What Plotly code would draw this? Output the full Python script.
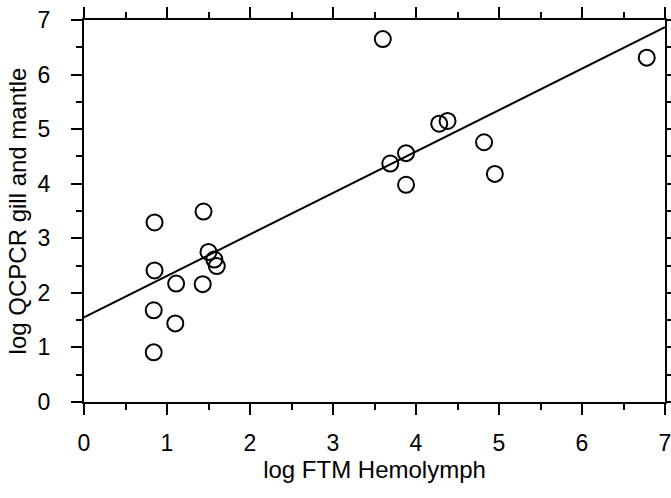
import plotly.graph_objects as go

# Data
ftm_hemolymph = [3.60, 6.78, 4.28, 4.38, 4.82, 3.88, 3.69, 4.95, 3.88,
                 1.44, 0.85, 1.50, 1.57, 1.60, 0.85, 1.11, 1.43, 0.84, 1.10, 0.84]
qcpcr_gill_mantle = [6.65, 6.31, 5.10, 5.15, 4.76, 4.56, 4.37, 4.18, 3.98,
                     3.49, 3.29, 2.75, 2.61, 2.49, 2.41, 2.17, 2.16, 1.68, 1.44, 0.91]
fit_x = [0, 7]
fit_y = [1.55, 6.87]
tick_vals = [0, 1, 2, 3, 4, 5, 6, 7]
tick_text = ["0", "1", "2", "3", "4", "5", "6", "7"]

FONT = "Liberation Sans, Arial, Helvetica, sans-serif"

fig = go.Figure()
fig.add_trace(go.Scatter(
    x=fit_x, y=fit_y, mode="lines",
    line=dict(color="black", width=2), hoverinfo="skip", showlegend=False))
fig.add_trace(go.Scatter(
    x=ftm_hemolymph, y=qcpcr_gill_mantle, mode="markers",
    marker=dict(symbol="circle-open", size=16, color="black",
                line=dict(color="black", width=2)),
    showlegend=False))

axis_common = dict(
    range=[0, 7], tickvals=tick_vals, ticktext=tick_text,
    showgrid=False, zeroline=False, automargin=False,
    ticklabeloverflow="allow",
    showline=True, linecolor="black", linewidth=2, mirror="ticks",
    ticks="outside", ticklen=11, tickwidth=1.5, tickcolor="black",
    minor=dict(dtick=0.5, tick0=0, ticks="outside", ticklen=6,
               tickwidth=1.5, tickcolor="black", showgrid=False),
    tickfont=dict(family=FONT, size=23, color="black"),
)

fig.update_xaxes(**axis_common, ticklabelstandoff=8,
                 title=dict(text="log FTM Hemolymph", standoff=6,
                            font=dict(family=FONT, size=24, color="black")))
fig.update_yaxes(**axis_common, ticklabelstandoff=16,
                 title=dict(text="log QCPCR gill and mantle", standoff=4,
                            font=dict(family=FONT, size=24, color="black")))

fig.update_layout(
    width=671, height=498,
    margin=dict(l=84, r=6, t=20, b=96, pad=0),
    paper_bgcolor="white", plot_bgcolor="white",
    font=dict(family=FONT, color="black"),
)

fig.write_html(
    "out.html",
    config={"displayModeBar": False},
    post_script="document.body.style.margin='0';document.body.style.overflow='hidden';",
)
